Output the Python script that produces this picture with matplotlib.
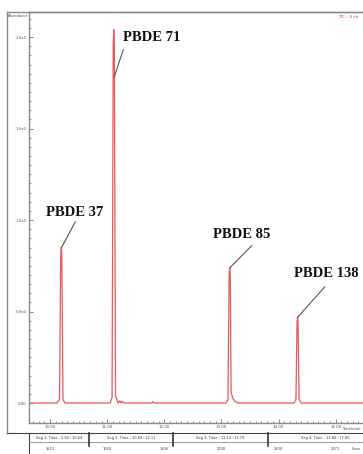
import matplotlib
matplotlib.use("Agg")
import matplotlib.pyplot as plt
from matplotlib.lines import Line2D

# ---------------- data ----------------
# chromatogram trace: retention time (min) and abundance (x1e5)
rt = [9.63, 10.12, 10.165, 10.185, 10.195, 10.205, 10.225, 10.26, 10.6,
      11.05, 11.085, 11.105, 11.115, 11.125, 11.145, 11.19, 11.22, 11.24,
      11.26, 11.29, 11.31, 11.5, 11.78, 11.80, 11.82, 12.6,
      13.08, 13.115, 13.135, 13.145, 13.155, 13.17, 13.20, 13.24, 13.30,
      13.8, 14.27, 14.305, 14.325, 14.333, 14.342, 14.36, 14.40, 15.0, 15.83]
abund = [0.0, 0.0, 0.02, 0.80, 0.85, 0.80, 0.02, 0.0, 0.0,
         0.0, 0.03, 1.95, 2.04, 1.95, 0.04, 0.0, 0.012, 0.0,
         0.010, 0.0, 0.0, 0.0, 0.0, 0.008, 0.0, 0.0,
         0.0, 0.02, 0.70, 0.74, 0.70, 0.06, 0.025, 0.008, 0.0,
         0.0, 0.0, 0.02, 0.45, 0.47, 0.44, 0.02, 0.0, 0.0, 0.0]

peak_names = ["PBDE 37", "PBDE 71", "PBDE 85", "PBDE 138"]
peak_rt = [10.195, 11.115, 13.145, 14.333]
peak_top = [0.85, 1.78, 0.74, 0.47]        # where leader line starts
label_rt = [10.43, 11.78, 13.36, 14.83]    # label centre (x)
label_y = [1.04, 2.0, 0.92, 0.71]          # label centre (y)
line_end = [(10.44, 0.99), (11.28, 1.93), (13.53, 0.86), (14.81, 0.635)]

yticks = [0.0, 0.5, 1.0, 1.5, 2.0]
ytick_labels = ["0.00", "5.0e4", "1.0e5", "1.5e5", "2.0e5"]
xticks = [10.0, 11.0, 12.0, 13.0, 14.0, 15.0]
xtick_labels = ["10.00", "11.00", "12.00", "13.00", "14.00", "15.00"]
scan_labels = ["1512", "1684", "1856", "2028", "2200", "2372"]
segments = ["Seg 1, Time : 5.62~10.64", "Seg 2, Time : 10.64~12.11",
            "Seg 3, Time : 12.12~13.79", "Seg 4, Time : 13.80~17.00"]
seg_edges = [9.63, 10.68, 12.16, 13.81, 15.83]

# ---------------- figure ----------------
W, H = 363, 454
fig = plt.figure(figsize=(W / 100, H / 100), dpi=100)

def fx(px):
    return px / W

def fy(py):
    return 1 - py / H

ax_left, ax_right, ax_top, ax_bot = 29, 383, 12, 423
ax = fig.add_axes([fx(ax_left), fy(ax_bot), fx(ax_right - ax_left), (ax_bot - ax_top) / H])
ax.set_xlim(9.63, 15.83)
ax.set_ylim(-0.109, 2.137)

ax.plot(rt, abund, color="#e8585c", lw=0.9)

frame_c = "#8a8a8a"
for s in ["left", "bottom", "top"]:
    ax.spines[s].set_color(frame_c)
    ax.spines[s].set_linewidth(1.0)
ax.spines["right"].set_visible(False)

ax.set_yticks(yticks)
ax.set_yticklabels(ytick_labels)
ax.set_yticks([v / 20 for v in range(0, 43)], minor=True)
ax.set_xticks(xticks)
ax.set_xticklabels(xtick_labels)
ax.set_xticks([9.7 + v / 10 for v in range(0, 62)], minor=True)
ax.tick_params(axis="both", which="both", direction="in", colors="#555555",
               labelsize=2.8, width=0.5, pad=1.5)
ax.tick_params(axis="both", which="major", length=3)
ax.tick_params(axis="both", which="minor", length=1.5)

# annotations
for name, prt, ptop, lrt, ly, le in zip(peak_names, peak_rt, peak_top,
                                        label_rt, label_y, line_end):
    ax.plot([prt + 0.005, le[0]], [ptop, le[1]], color="#555555", lw=0.8)
    ax.text(lrt, ly, name, ha="center", va="center", fontsize=10.5,
            fontweight="bold", family="Liberation Serif", color="#111111")

# outer frame
fig.add_artist(Line2D([fx(7), fx(7)], [fy(12), fy(433)], color=frame_c, lw=1.0))
fig.add_artist(Line2D([fx(7), fx(363)], [fy(12), fy(12)], color=frame_c, lw=1.0))
fig.add_artist(Line2D([fx(7), fx(363)], [fy(433), fy(433)], color="#444444", lw=0.8))

fig.text(fx(18), fy(16), "Abundance", fontsize=2.6, color="#555555",
         ha="center", va="center")
fig.text(fx(348), fy(17), "TIC :  4 ch", fontsize=3.0, color="#d03030",
         ha="center", va="center")
fig.text(fx(361), fy(429), "Time(min)", fontsize=2.6, color="#444444",
         ha="right", va="center")

# segment row
def tx(t):
    return ax_left + (t - 9.63) / (15.83 - 9.63) * (ax_right - ax_left)

fig.add_artist(Line2D([fx(29), fx(29)], [fy(433), fy(454)], color="#444444", lw=0.8))
fig.add_artist(Line2D([fx(29), fx(363)], [fy(442), fy(442)], color="#888888", lw=0.6))
for e in seg_edges[1:-1]:
    fig.add_artist(Line2D([fx(tx(e)), fx(tx(e))], [fy(433), fy(446)],
                          color="#333333", lw=1.2))
for i, s in enumerate(segments):
    a, b = tx(seg_edges[i]), min(tx(seg_edges[i + 1]), 363 + 40)
    fig.text(fx((a + b) / 2), fy(437.5), s, fontsize=2.6, color="#333333",
             ha="center", va="center")
for t, lab in zip(xticks, scan_labels):
    fig.text(fx(tx(t)), fy(449), lab, fontsize=2.6, color="#444444",
             ha="center", va="center")
fig.text(fx(361), fy(449), "Scan", fontsize=2.6, color="#444444",
         ha="right", va="center")

fig.savefig("out.png", dpi=100, facecolor="white")
